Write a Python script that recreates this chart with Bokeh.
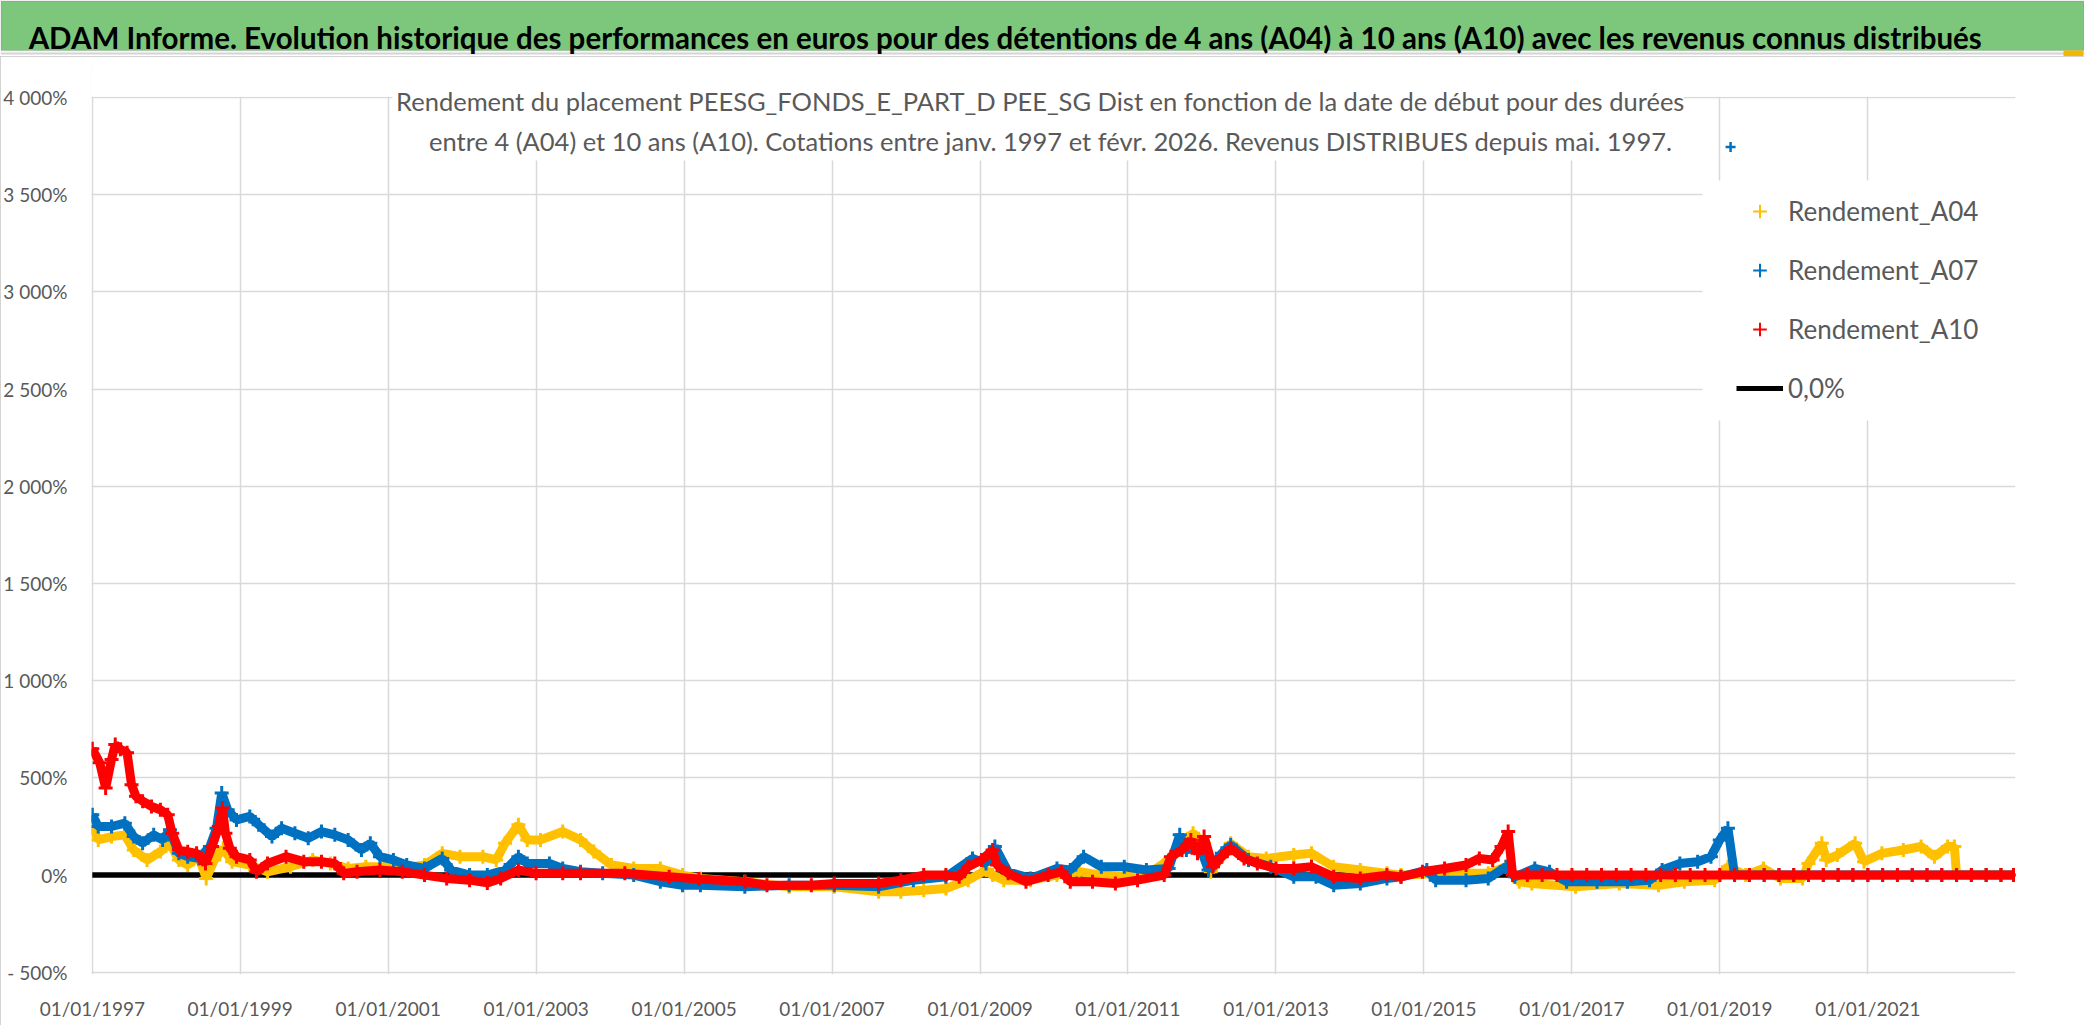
import numpy as np
from datetime import datetime, timedelta
from bokeh.plotting import figure
from bokeh.models import (Range1d, FixedTicker, Legend, LegendItem, BoxAnnotation,
                          Label, DatetimeTickFormatter, Span, ColumnDataSource)
from bokeh.embed import file_html
from bokeh.resources import INLINE

TITLE = ("ADAM Informe. Evolution historique des performances en euros pour des détentions "
         "de 4 ans (A04) à 10 ans (A10) avec les revenus connus distribués")
SUB1 = "Rendement du placement PEESG_FONDS_E_PART_D PEE_SG Dist en fonction de la date de début pour des durées"
SUB2 = "entre 4 (A04) et 10 ans (A10). Cotations entre janv. 1997 et févr. 2026. Revenus DISTRIBUES depuis mai. 1997."

x_tick_labels = ["01/01/1997", "01/01/1999", "01/01/2001", "01/01/2003", "01/01/2005",
                 "01/01/2007", "01/01/2009", "01/01/2011", "01/01/2013", "01/01/2015",
                 "01/01/2017", "01/01/2019", "01/01/2021"]
x_end = "31/12/2022"
y_tick_values = [-500, 0, 500, 1000, 1500, 2000, 2500, 3000, 3500, 4000]
y_tick_labels = ["- 500%", "0%", "500%", "1 000%", "1 500%", "2 000%", "2 500%",
                 "3 000%", "3 500%", "4 000%"]
series_names = ["Rendement_A04", "Rendement_A07", "Rendement_A10"]
zero_name = "0,0%"

# dates as decimal years, values in %
a04_t = [1997.00, 1997.08, 1997.26, 1997.44, 1997.56, 1997.74, 1997.92,
         1998.05, 1998.17, 1998.29, 1998.44, 1998.54, 1998.65, 1998.77, 1998.89,
         1999.13, 1999.37, 1999.68, 1999.98,
         2000.22, 2000.46, 2000.70, 2000.95,
         2001.19, 2001.49, 2001.73, 2001.97,
         2002.28, 2002.46, 2002.58, 2002.76, 2002.88,
         2003.06, 2003.36, 2003.60, 2003.78,
         2004.02, 2004.32, 2004.68, 2004.98,
         2005.22, 2005.82,
         2006.42,
         2007.03, 2007.63, 2007.93,
         2008.24, 2008.54, 2008.84,
         2009.08, 2009.17, 2009.32, 2009.68,
         2010.04, 2010.34, 2010.64, 2010.95,
         2011.25, 2011.55, 2011.73, 2011.88,
         2012.03, 2012.12, 2012.39, 2012.63, 2012.87,
         2013.24, 2013.48, 2013.78,
         2014.14, 2014.50, 2014.69,
         2015.28, 2015.87,
         2016.11, 2016.29, 2016.46,
         2017.05, 2017.64,
         2018.17, 2018.52, 2018.93,
         2019.11, 2019.35, 2019.59, 2019.82,
         2020.12, 2020.20, 2020.38, 2020.44, 2020.59, 2020.83, 2020.95,
         2021.19, 2021.48, 2021.72, 2021.90,
         2022.08, 2022.17,
         2022.20, 2022.40, 2022.60, 2022.80, 2022.97]
a04_v = [250, 181, 198, 207, 129, 78, 121,
         164, 78, 52, 95, -17, 78, 138, 69,
         52, 17, 43, 78,
         60, 34, 43, 43,
         34, 52, 112, 95,
         95, 78, 164, 259, 181,
         181, 224, 181, 121,
         52, 34, 34, 0,
         -17, -34,
         -60,
         -60, -86, -86,
         -78, -69, -26,
         26, 0, -26, -26,
         0, 17, 0, -9,
         0, 78, 164, 215,
         164, 17, 164, 95, 86,
         103, 112, 43,
         26, 9, 0,
         9, 9,
         43, -34, -43,
         -60, -43,
         -52, -34, -26,
         43, 0, 34, -17,
         -17, 60, 164, 78, 103, 164, 69,
         112, 129, 147, 95,
         147, 147,
         0, 0, 0, 0, 0]

a07_t = [1997.00, 1997.08, 1997.26, 1997.44, 1997.56, 1997.68, 1997.83, 1997.95,
         1998.05, 1998.17, 1998.29, 1998.44, 1998.59, 1998.68, 1998.75, 1998.83, 1998.95,
         1999.13, 1999.25, 1999.43, 1999.56, 1999.74, 1999.92,
         2000.10, 2000.28, 2000.46, 2000.64, 2000.76, 2000.89,
         2001.07, 2001.25, 2001.49, 2001.73, 2001.85,
         2002.10, 2002.34, 2002.58, 2002.76, 2002.88,
         2003.18, 2003.36, 2003.60, 2003.90,
         2004.32, 2004.68, 2004.98,
         2005.22, 2005.82,
         2006.42,
         2007.03, 2007.63,
         2008.10, 2008.54, 2008.90,
         2009.08, 2009.20, 2009.38, 2009.68,
         2010.04, 2010.22, 2010.40, 2010.64, 2010.95,
         2011.25, 2011.55, 2011.70, 2011.79, 2011.97,
         2012.09, 2012.27, 2012.39, 2012.63, 2012.93,
         2013.24, 2013.54, 2013.78,
         2014.14, 2014.50, 2014.69,
         2015.04, 2015.16, 2015.57, 2015.87,
         2016.11, 2016.23, 2016.50, 2016.70, 2016.93,
         2017.34, 2017.75,
         2018.05, 2018.22, 2018.46, 2018.70, 2018.88,
         2019.00, 2019.11,
         2019.20, 2019.40, 2019.60, 2019.80, 2020.00, 2020.20, 2020.40, 2020.60,
         2020.80, 2021.00, 2021.20, 2021.40, 2021.60, 2021.80, 2022.00, 2022.20,
         2022.40, 2022.60, 2022.80, 2022.97]
a07_v = [310, 250, 250, 267, 198, 164, 207, 181,
         233, 112, 95, 86, 147, 241, 422, 336, 284,
         302, 259, 198, 241, 215, 190,
         224, 207, 181, 129, 164, 95,
         78, 52, 34, 86, 26,
         0, 0, 26, 95, 60,
         60, 34, 17, 9,
         0, -34, -52,
         -52, -60,
         -52,
         -52, -60,
         -26, -9, 86,
         60, 147, 17, -17,
         34, 26, 95, 43, 43,
         26, 34, 207, 129, 147,
         26, 112, 155, 78, 43,
         -9, -9, -52,
         -43, -17, -9,
         26, -26, -26, -17,
         43, -9, 34, 17, -34,
         -34, -34,
         -26, 26, 60, 69, 95,
         181, 241,
         0, 0, 0, 0, 0, 0, 0, 0,
         0, 0, 0, 0, 0, 0, 0, 0,
         0, 0, 0, 0]
a07_outlier_t = [2019.146]
a07_outlier_v = [3745]

a10_t = [1997.00, 1997.10, 1997.18, 1997.26, 1997.31, 1997.38, 1997.47, 1997.53, 1997.59, 1997.68, 1997.80, 1997.92,
         1998.02, 1998.08, 1998.17, 1998.29, 1998.41, 1998.53, 1998.62, 1998.71, 1998.76, 1998.80, 1998.86, 1998.95,
         1999.13, 1999.22, 1999.37, 1999.62, 1999.86,
         2000.10, 2000.28, 2000.40, 2000.58, 2000.89,
         2001.19, 2001.49, 2001.79,
         2002.10, 2002.34, 2002.52, 2002.76,
         2003.00, 2003.36, 2003.60,
         2004.20, 2004.80,
         2005.20, 2005.82,
         2006.12, 2006.72,
         2007.03, 2007.63, 2007.93,
         2008.24, 2008.54, 2008.72, 2008.84,
         2009.02, 2009.17, 2009.23, 2009.38, 2009.62, 2009.92,
         2010.10, 2010.22, 2010.52, 2010.83,
         2011.13, 2011.49, 2011.58, 2011.73, 2011.85, 2011.94,
         2012.03, 2012.15, 2012.27, 2012.39, 2012.57, 2012.75,
         2013.00, 2013.24, 2013.48, 2013.78,
         2014.14, 2014.50, 2014.69, 2014.98,
         2015.28, 2015.57, 2015.75, 2015.93,
         2016.05, 2016.14,
         2016.20, 2016.40, 2016.60, 2016.80, 2017.00, 2017.20, 2017.40, 2017.60,
         2017.80, 2018.00, 2018.20, 2018.40, 2018.60, 2018.80, 2019.00, 2019.20,
         2019.40, 2019.60, 2019.80, 2020.00, 2020.20, 2020.40, 2020.60, 2020.80,
         2021.00, 2021.20, 2021.40, 2021.60, 2021.80, 2022.00, 2022.20, 2022.40,
         2022.60, 2022.80, 2022.97]
a10_v = [650, 578, 448, 595, 672, 647, 630, 465, 405, 380, 353, 336,
         310, 215, 130, 120, 112, 60, 147, 250, 345, 215, 138, 95,
         78, 17, 60, 95, 69,
         69, 60, 9, 17, 26,
         17, 0, -17,
         -26, -40, -17, 26,
         9, 9, 9,
         9, -9,
         -20, -34,
         -52, -52,
         -43, -43, -26,
         0, 0, -9, 43,
         78, 129, 52, 9, -34, 0,
         17, -34, -34, -43,
         -26, 0, 95, 129, 181, 112,
         198, 43, 95, 138, 86, 60,
         34, 34, 43, -9,
         -17, 0, -9, 17,
         34, 52, 86, 78,
         147, 224,
         0, 0, 0, 0, 0, 0, 0, 0,
         0, 0, 0, 0, 0, 0, 0, 0,
         0, 0, 0, 0, 0, 0, 0, 0,
         0, 0, 0, 0, 0, 0, 0, 0,
         0, 0, 0]

zero_t = [1997.00, 2022.97]
zero_v = [0, 0]
upper_ref_value = 626   # thin grey horizontal line across the plot area

COL_A04, COL_A07, COL_A10 = "#FFC000", "#0070C0", "#FF0000"
GRID = "#D9D9D9"
TXT = "#595959"
FONT = "Lato"


def dec(y):
    yi = int(np.floor(y))
    return datetime(yi, 1, 1) + timedelta(days=(y - yi) * 365.25)


def ms(d):
    return (d - datetime(1970, 1, 1)).total_seconds() * 1000.0


def parse(s):
    return datetime.strptime(s, "%d/%m/%Y")


# ---------------- page geometry (pixels) ----------------
W = 2084
TITLE_H = 56
MAIN_H = 969
FR_LEFT, FR_RIGHT = 91, 2015          # frame edges on the page
FR_TOP, FR_BOT = 64, 974              # frame edges on the page
Y_ZERO_PX, PX_PER_UNIT = 874.6, 97.2 / 500.0
y_max = (Y_ZERO_PX - FR_TOP) / PX_PER_UNIT
y_min = (Y_ZERO_PX - FR_BOT) / PX_PER_UNIT
x0 = parse(x_tick_labels[0]) - timedelta(days=4)
BORDER_CSS = {"outline": "2px solid #C4C4C4", "outline-offset": "-2px"}


def ypix_to_val(py):
    return (Y_ZERO_PX - py) / PX_PER_UNIT


def xpix_to_ms(px):
    x0m, x1m = ms(x0), ms(parse(x_end))
    return x0m + (px - FR_LEFT) / (FR_RIGHT - FR_LEFT) * (x1m - x0m)


# ---------------- title bar figure ----------------
tf = figure(width=W, height=TITLE_H, output_backend="svg", toolbar_location=None,
            x_range=Range1d(0, W), y_range=Range1d(TITLE_H, 0),
            min_border=0, min_border_left=0, min_border_right=0, min_border_top=0, min_border_bottom=0,
            x_axis_location=None, y_axis_location=None)
tf.grid.visible = False
tf.outline_line_color = None
tf.background_fill_color = "white"
tf.border_fill_color = "white"
tf.add_layout(BoxAnnotation(left=0.5, right=W - 0.5, top=0.5, bottom=50, fill_color="#7DC77D", fill_alpha=1,
                            line_color="#8A8A8A", line_width=1.5))
tf.add_layout(BoxAnnotation(left=0, right=W, top=52, bottom=54, fill_color="#D4D4D4", fill_alpha=1,
                            line_color=None))
tf.add_layout(BoxAnnotation(left=2063, right=2083, top=50, bottom=56, fill_color="#F2B800", fill_alpha=1,
                            line_color=None))
tf.add_layout(Label(x=1005, y=37, text=TITLE, text_align="center", text_baseline="alphabetic",
                    text_font=FONT, text_font_style="bold", text_font_size="29.5px", text_color="black"))

# ---------------- main chart ----------------
p = figure(width=W, height=MAIN_H, x_axis_type="datetime",
           output_backend="svg", toolbar_location=None,
           x_range=Range1d(x0, parse(x_end)), y_range=Range1d(y_min, y_max),
           min_border_left=FR_LEFT, min_border_right=W - FR_RIGHT,
           min_border_top=FR_TOP - TITLE_H, min_border_bottom=TITLE_H + MAIN_H - FR_BOT,
           styles=BORDER_CSS)
p.outline_line_color = None
p.background_fill_color = "white"
p.border_fill_color = "white"

xt = [ms(parse(s)) for s in x_tick_labels]
p.xaxis.ticker = FixedTicker(ticks=xt)
fmt = "%d/%m/%Y"
p.xaxis.formatter = DatetimeTickFormatter(milliseconds=fmt, seconds=fmt, minsec=fmt, minutes=fmt,
                                          hourmin=fmt, hours=fmt, days=fmt, months=fmt, years=fmt)
p.yaxis.ticker = FixedTicker(ticks=y_tick_values)
p.yaxis.major_label_overrides = {v: l for v, l in zip(y_tick_values, y_tick_labels)}

for ax in (p.xaxis[0], p.yaxis[0]):
    ax.axis_line_color = None
    ax.major_tick_line_color = None
    ax.minor_tick_line_color = None
    ax.major_label_text_font = FONT
    ax.major_label_text_color = TXT
    ax.major_label_text_font_size = "19px"
p.xaxis.major_label_standoff = 16
p.yaxis.major_label_standoff = 18

p.xgrid.grid_line_color = GRID
p.xgrid.grid_line_width = 1.5
p.ygrid.grid_line_color = GRID
p.ygrid.grid_line_width = 1.5

p.add_layout(Span(location=upper_ref_value, dimension="width", line_color=GRID,
                  line_width=1.5, level="underlay"))

# 0% line
p.line([dec(t) for t in zero_t], zero_v, line_color="black", line_width=5.5)

for t, v, col in ((a04_t, a04_v, COL_A04), (a07_t, a07_v, COL_A07), (a10_t, a10_v, COL_A10)):
    src = ColumnDataSource(dict(x=[dec(q) for q in t], y=v))
    p.line("x", "y", source=src, line_color=col, line_width=9)
    p.scatter("x", "y", source=src, marker="cross", size=14, line_width=3, line_color=col)

p.scatter([dec(q) for q in a07_outlier_t], a07_outlier_v, marker="cross", size=10,
          line_width=2.5, line_color=COL_A07)

# white area above the 4000% line
p.add_layout(BoxAnnotation(bottom=y_tick_values[-1] + 4, fill_color="white", fill_alpha=1, line_color=None))

# subtitle box + text
p.add_layout(BoxAnnotation(left=xpix_to_ms(392), right=xpix_to_ms(1683), bottom=ypix_to_val(160),
                           fill_color="white", fill_alpha=1, line_color=None))
for txt, cxp, byp in ((SUB1, 1040, 100), (SUB2, 1050, 140)):
    p.add_layout(Label(x=xpix_to_ms(cxp), y=ypix_to_val(byp), text=txt, text_align="center",
                       text_baseline="alphabetic", text_font=FONT, text_font_size="25.5px",
                       text_color=TXT))

# legend background box
p.add_layout(BoxAnnotation(left=xpix_to_ms(1702), top=ypix_to_val(180), bottom=ypix_to_val(420),
                           fill_color="white", fill_alpha=1, line_color=None))

far = [dec(1990.0)]
leg_r = []
for col in (COL_A04, COL_A07, COL_A10):
    leg_r.append(p.scatter(x=far, y=[0], marker="cross", size=8, line_width=2, line_color=col))
leg_r.append(p.line(x=far + [dec(1990.5)], y=[0, 0], line_color="black", line_width=5))
items = [LegendItem(label=n, renderers=[r]) for n, r in zip(series_names + [zero_name], leg_r)]
legend = Legend(items=items, location=(1736 - FR_LEFT, FR_BOT - 405), orientation="vertical",
                background_fill_alpha=0, border_line_color=None, padding=0, margin=0,
                spacing=25, label_height=34, glyph_height=34, glyph_width=47, label_standoff=5,
                label_text_font=FONT, label_text_font_size="26px", label_text_color=TXT)
p.add_layout(legend)

html = file_html([tf, p], INLINE)
html = html.replace("<head>", "<head>\n<style>html, body { margin: 0; padding: 0; overflow: hidden; }</style>", 1)
open("out.html", "w").write(html)
